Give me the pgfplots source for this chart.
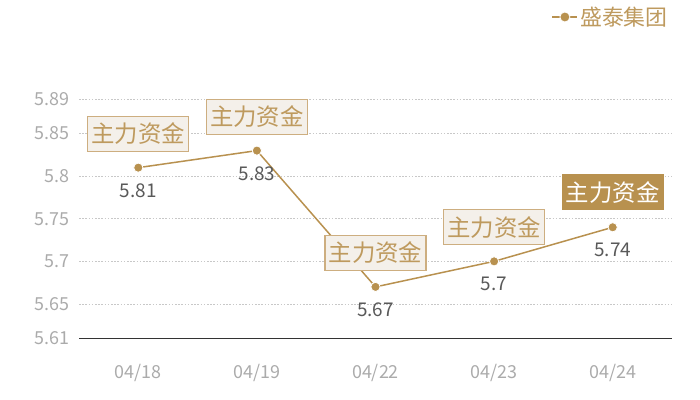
\documentclass[border=0pt]{standalone}
\usepackage{fontspec}
\setmainfont{Noto Sans CJK SC}
\usepackage{pgfplots}
\pgfplotsset{compat=1.18}

\definecolor{gold}{HTML}{B8914F}
\definecolor{boxfill}{HTML}{F4F0EA}
\definecolor{boxline}{HTML}{CDAE80}
\definecolor{boxtext}{HTML}{BE9A5E}
\definecolor{numtext}{HTML}{595959}
\definecolor{ticktext}{HTML}{ABABAB}
\definecolor{gridc}{HTML}{C8C8C8}

\begin{document}
\begin{tikzpicture}
\path[use as bounding box] (0,0) rectangle (700bp,400bp);
\begin{axis}[
   at={(79bp,62bp)}, anchor=south west,
   scale only axis,
   width=593bp, height=238.5bp,
   xmin=-0.5, xmax=4.5,
   ymin=5.61, ymax=5.89,
   xtick={0,...,4},
   xticklabels={04/18,04/19,04/22,04/23,04/24},
   ytick={5.61,5.65,5.7,5.75,5.8,5.85,5.89},
   yticklabels={5.61,5.65,5.7,5.75,5.8,5.85,5.89},
   /pgf/number format/assume math mode=true,
   axis x line=bottom,
   axis y line=left,
   x axis line style={-, draw=black!80, line width=0.8bp},
   y axis line style={draw=none},
   major tick length=0pt,
   ymajorgrids,
   grid style={gridc, line width=0.6bp, dash pattern=on 1.6bp off 1.6bp},
   tick label style={font=\fontsize{18}{18}\selectfont, text=ticktext, inner sep=0pt},
   xticklabel style={anchor=north},
   xticklabel shift=26bp,
   yticklabel style={anchor=east},
   yticklabel shift=9bp,
   clip=false,
   legend style={at={(1,1)}, anchor=east, xshift=-2bp, yshift=82.5bp,
      draw=none, fill=none, inner sep=0pt,
      font=\fontsize{22}{22}\selectfont, text=boxtext},
   legend image code/.code={
      \draw[mark repeat=2, mark phase=2, #1, mark size=5bp]
         plot coordinates {(0bp,0bp) (12.5bp,0bp) (25bp,0bp)};
   },
]

% price line
\addplot [gold, line width=1.5bp, mark=*, mark size=4.6bp,
   mark options={fill=gold, draw=white, line width=0.8bp}] coordinates {
   (0, 5.81)
   (1, 5.83)
   (2, 5.67)
   (3, 5.70)
   (4, 5.74)
};
\addlegendentry{盛泰集团}

% value labels below points
\addplot [draw=none, mark=none, forget plot,
   nodes near coords, point meta=explicit symbolic,
   nodes near coords style={anchor=center, yshift=-23bp, text=numtext,
      font=\fontsize{19}{19}\selectfont, inner sep=0pt}] coordinates {
   (0, 5.81) [5.81]
   (1, 5.83) [5.83]
   (2, 5.67) [5.67]
   (3, 5.70) [5.7]
   (4, 5.74) [5.74]
};

% light tag boxes
\addplot [draw=none, mark=none, forget plot,
   nodes near coords, point meta=explicit symbolic,
   nodes near coords style={anchor=center, yshift=34bp, text=boxtext,
      fill=boxfill, draw=boxline, line width=1.2bp,
      minimum width=101bp, minimum height=35bp, inner sep=0pt,
      font=\fontsize{23.5}{23.5}\selectfont}] coordinates {
   (0, 5.81) [主力资金]
   (1, 5.83) [主力资金]
   (2, 5.67) [主力资金]
   (3, 5.70) [主力资金]
};

% highlighted tag box
\addplot [draw=none, mark=none, forget plot,
   nodes near coords, point meta=explicit symbolic,
   nodes near coords style={anchor=center, yshift=35bp, text=white,
      fill=gold, draw=gold, line width=1bp,
      minimum width=101bp, minimum height=35bp, inner sep=0pt,
      font=\fontsize{23.5}{23.5}\selectfont}] coordinates {
   (4, 5.74) [主力资金]
};
\end{axis}
\end{tikzpicture}
\end{document}
